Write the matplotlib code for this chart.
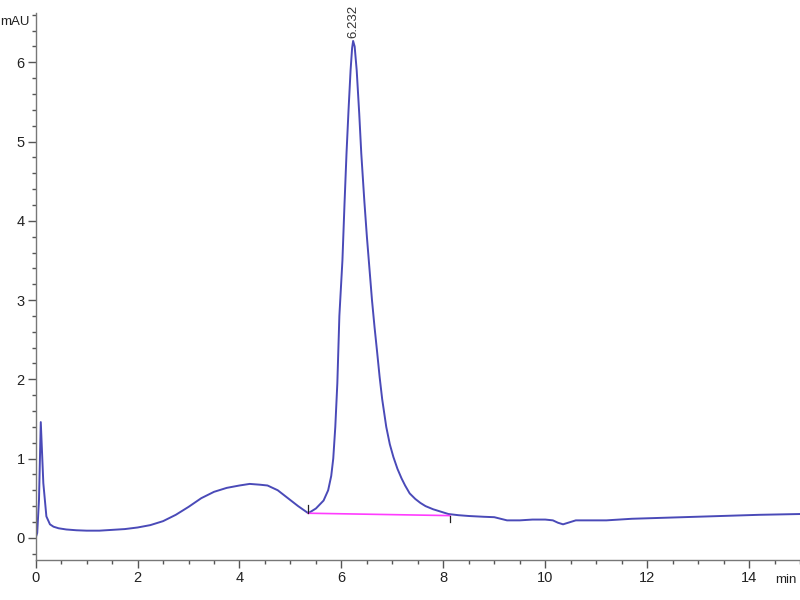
import matplotlib
matplotlib.use("Agg")
import matplotlib.pyplot as plt
from matplotlib.ticker import MultipleLocator

# Chromatogram trace (time in min, signal in mAU)
time_min = [0, 0.03, 0.065, 0.1, 0.15, 0.21, 0.28, 0.35, 0.45, 0.6, 0.8, 1.0,
            1.25, 1.5, 1.75, 2.0, 2.25, 2.5, 2.75, 3.0, 3.25, 3.5, 3.75, 4.0,
            4.2, 4.4, 4.55, 4.75, 4.95, 5.15, 5.35, 5.5, 5.65, 5.74, 5.8,
            5.84, 5.88, 5.92, 5.96, 6.02, 6.06, 6.1, 6.14, 6.18, 6.21, 6.23,
            6.26, 6.3, 6.35, 6.39, 6.45, 6.5, 6.55, 6.6, 6.65, 6.7, 6.75, 6.8,
            6.88, 6.95, 7.02, 7.1, 7.18, 7.25, 7.34, 7.45, 7.55, 7.65, 7.8,
            7.95, 8.1, 8.3, 8.5, 8.8, 9.0, 9.25, 9.5, 9.75, 10.0, 10.15, 10.25,
            10.35, 10.45, 10.6, 10.8, 11.2, 11.7, 12.2, 12.7, 13.2, 13.7, 14.2,
            14.6, 15.0]
signal_mau = [0.0, 0.06, 0.48, 1.46, 0.69, 0.27, 0.17, 0.14, 0.12, 0.105,
              0.095, 0.09, 0.09, 0.10, 0.11, 0.13, 0.16, 0.21, 0.29, 0.39,
              0.50, 0.58, 0.63, 0.66, 0.68, 0.67, 0.66, 0.60, 0.50, 0.40,
              0.31, 0.37, 0.47, 0.60, 0.78, 1.0, 1.40, 1.95, 2.8, 3.5, 4.2,
              4.85, 5.4, 5.9, 6.18, 6.27, 6.2, 5.9, 5.35, 4.85, 4.25, 3.8,
              3.4, 3.0, 2.66, 2.35, 2.03, 1.75, 1.40, 1.18, 1.02, 0.87, 0.75,
              0.66, 0.56, 0.49, 0.44, 0.40, 0.36, 0.33, 0.30, 0.285, 0.275,
              0.265, 0.26, 0.22, 0.22, 0.23, 0.23, 0.22, 0.19, 0.17, 0.19,
              0.22, 0.22, 0.22, 0.24, 0.25, 0.26, 0.27, 0.28, 0.29, 0.295, 0.30]

# Integration baseline of the main peak
base_t = [5.35, 8.13]
base_y = [0.31, 0.28]
peak_rt = 6.232
peak_height = 6.27

fig = plt.figure(figsize=(8, 6), dpi=100)
ax = fig.add_axes([0.0446, 0.0667, 0.9554, 0.9113])

ax.plot(time_min, signal_mau, color='#4a4ab8', lw=1.4)
ax.plot(base_t, base_y, color='#ff3cff', lw=1.2)

# small start/end markers of the integration
ax.plot([base_t[0], base_t[0]], [base_y[0], base_y[0] + 0.1], color='#222222', lw=0.9)
ax.plot([base_t[1], base_t[1]], [base_y[1], base_y[1] - 0.08], color='#222222', lw=0.9)

ax.text(peak_rt, peak_height + 0.04, f'{peak_rt:.3f}', rotation=90, ha='center',
        va='bottom', fontsize=9.5, color='#333333', clip_on=False,
        family='Liberation Sans')

ax.set_xlim(0, 15)
ax.set_ylim(-0.28, 6.62)

for s in ['top', 'right']:
    ax.spines[s].set_visible(False)
for s in ['left', 'bottom']:
    ax.spines[s].set_color('#777777')
    ax.spines[s].set_linewidth(1.0)

ax.xaxis.set_major_locator(MultipleLocator(2))
ax.xaxis.set_minor_locator(MultipleLocator(0.5))
ax.yaxis.set_major_locator(MultipleLocator(1))
ax.yaxis.set_minor_locator(MultipleLocator(0.2))
ax.tick_params(which='major', direction='out', length=6, width=1, color='#555555',
               labelsize=10.5, labelcolor='#222222', pad=2)
ax.tick_params(which='minor', direction='out', length=3, width=1, color='#555555')
for lab in ax.get_xticklabels() + ax.get_yticklabels():
    lab.set_family('Liberation Sans')

fig.text(0.0, 0.963, 'mAU', fontsize=9.5, color='#222222', ha='left', va='center',
         family='Liberation Sans')
fig.text(0.996, 0.033, 'min', fontsize=9.5, color='#222222', ha='right', va='center',
         family='Liberation Sans')

fig.savefig('out.png', dpi=100)
